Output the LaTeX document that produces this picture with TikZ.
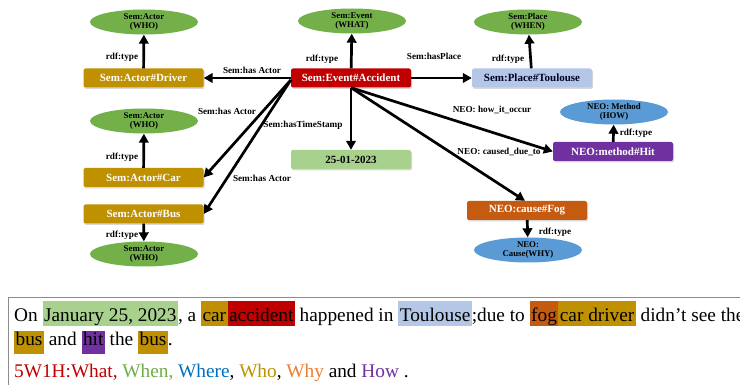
\documentclass[tikz,border=0pt]{standalone}
\usepackage{fontspec}
\setmainfont{Liberation Serif}
\usetikzlibrary{arrows.meta,shadows,shapes.geometric}
\definecolor{cgold}{HTML}{BF9000}
\definecolor{cred}{HTML}{C00000}
\definecolor{clblue}{HTML}{B4C7E7}
\definecolor{clgreen}{HTML}{A9D18E}
\definecolor{cpurple}{HTML}{7030A0}
\definecolor{corange}{HTML}{C55A11}
\definecolor{cegreen}{HTML}{74B04A}
\definecolor{ceblue}{HTML}{5B9BD5}
\definecolor{twhen}{HTML}{70AD47}
\definecolor{twhere}{HTML}{0070C0}
\definecolor{twhy}{HTML}{ED7D31}
\definecolor{cframe}{HTML}{8C8C8C}
\newcommand\hlA[2]{{\setlength{\fboxsep}{0pt}\colorbox{#1}{\rule[-5pt]{0pt}{25pt}\hspace{1.5pt}#2\hspace{1.5pt}}}}
\newcommand\hlB[2]{{\setlength{\fboxsep}{0pt}\colorbox{#1}{\rule[-9pt]{0pt}{23pt}\hspace{1.5pt}#2\hspace{1.5pt}}}}
\begin{document}
\begin{tikzpicture}[x=1pt,y=-1pt,
  boxnode/.style={rectangle, rounded corners=2pt, minimum width=120pt, minimum height=19pt, inner sep=1pt,
    font=\fontsize{11}{12}\selectfont\bfseries,
    drop shadow={shadow xshift=1pt, shadow yshift=-1.5pt, opacity=0.3}},
  ellnode/.style={ellipse, minimum width=108pt, minimum height=25pt, inner sep=0pt, align=center,
    font=\fontsize{8.8}{9.5}\selectfont\bfseries},
  lbl/.style={font=\fontsize{9.2}{10}\selectfont\bfseries, inner sep=0pt},
  arr/.style={line width=2.7pt, -{Triangle[length=9pt,width=9.5pt]}},
  txt/.style={anchor=base west, inner sep=0pt, font=\fontsize{19.3}{23}\selectfont}]
\useasboundingbox (0,0) rectangle (740,385);
\clip (0,0) rectangle (740,385);
\fill[white] (0,0) rectangle (740,385);
% boxes
\node[boxnode, fill=cgold, text=white] (drv) at (143.5,78) {Sem:Actor\#Driver};
\node[boxnode, fill=cgold, text=white] (car) at (143.5,177.5) {Sem:Actor\#Car};
\node[boxnode, fill=cgold, text=white] (bus) at (143.5,214) {Sem:Actor\#Bus};
\node[boxnode, fill=cred, text=white] (acc) at (351,78) {Sem:Event\#Accident};
\node[boxnode, fill=clblue, text=black!85!blue] (tls) at (532,78) {Sem:Place\#Toulouse};
\node[boxnode, fill=clgreen, text=black] (ts) at (351,159.5) {25-01-2023};
\node[boxnode, fill=cpurple, text=white] (hit) at (613,151.5) {NEO:method\#Hit};
\node[boxnode, fill=corange, text=white] (fog) at (527,210.5) {NEO:cause\#Fog};
% ellipses
\node[ellnode, fill=cegreen] (e1) at (144,22) {Sem:Actor\\(WHO)};
\node[ellnode, fill=cegreen] (e2) at (144,121) {Sem:Actor\\(WHO)};
\node[ellnode, fill=cegreen] (e3) at (144,254) {Sem:Actor\\(WHO)};
\node[ellnode, fill=cegreen] (ewhat) at (352,21) {Sem:Event\\(WHAT)};
\node[ellnode, fill=cegreen] (ewhen) at (528,22) {Sem:Place\\(WHEN)};
\node[ellnode, fill=ceblue] (ehow) at (614,112) {NEO: Method\\(HOW)};
\node[ellnode, fill=ceblue] (ewhy) at (528,250) {NEO:\\Cause(WHY)};
% arrows
\draw[arr] (drv) -- (e1);
\draw[arr] (car) -- (e2);
\draw[arr] (bus) -- (e3);
\draw[arr] (acc) -- (ewhat);
\draw[arr] (tls) -- (ewhen);
\draw[arr] (hit) -- (ehow);
\draw[arr] (fog) -- (ewhy);
\draw[arr] (acc.west) -- (drv.east);
\draw[arr] ([yshift=-2pt]acc.west) -- (car.east);
\draw[arr] ([yshift=-2pt]acc.west) -- (bus.east);
\draw[arr] (acc.south) -- (ts.north);
\draw[arr] (acc.east) -- (tls.west);
\draw[arr] (acc.south) -- (hit.west);
\draw[arr] (acc.south) -- ([xshift=-2pt]fog.north);
% labels
\node[lbl] (l1) at (122,57) {rdf:type};
\node[lbl] (l2) at (252,70) {Sem:has Actor};
\node[lbl] (l3) at (227,111) {Sem:has Actor};
\node[lbl] (l4) at (303,125) {Sem:hasTimeStamp};
\node[lbl] (l5) at (262,178) {Sem:has Actor};
\node[lbl] (l6) at (122,157) {rdf:type};
\node[lbl] (l7) at (122,235) {rdf:type};
\node[lbl] (l8) at (322,59) {rdf:type};
\node[lbl] (l9) at (434,56) {Sem:hasPlace};
\node[lbl] (l10) at (508,59) {rdf:type};
\node[lbl] (l11) at (492,110) {NEO: how\_it\_occur};
\node[lbl] (l12) at (499,152) {NEO: caused\_due\_to};
\node[lbl] (l13) at (636,133) {rdf:type};
\node[lbl] (l14) at (555,232) {rdf:type};
% text panel
\draw[cframe, line width=0.8pt] (8,297.5) rectangle (760,400);
\node[txt] (t1) at (14,321.5) {On \hlA{clgreen}{January 25, 2023}, a \hlA{cgold}{car}\hlA{cred}{accident} happened in \hlA{clblue}{Toulouse};due to \hlA{corange}{fog}\hlA{cgold}{car driver} didn’t see the};
\node[txt] (t2) at (14,345) {\hlB{cgold}{bus} and \hlB{cpurple}{hit} the \hlB{cgold}{bus}.};
\node[txt] (t3) at (14,377) {\textcolor{cred}{5W1H:What,} \textcolor{twhen}{When,} \textcolor{twhere}{Where}, \textcolor{cgold}{Who}, \textcolor{twhy}{Why} and \textcolor{cpurple}{How} .};
\end{tikzpicture}
\end{document}
